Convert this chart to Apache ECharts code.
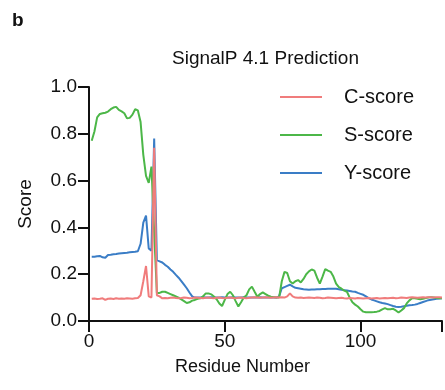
<!DOCTYPE html>
<html>
<head>
<meta charset="utf-8">
<title>SignalP 4.1 Prediction</title>
<script src="https://cdn.jsdelivr.net/npm/echarts@6/dist/echarts.min.js"></script>
<style>
  html, body {margin: 0; padding: 0; background: #fff;}
  #chart {width: 445px; height: 390px;}
</style>
</head>
<body>
<div id="chart"></div>
<script>
// scores per residue (residue 1..130)
var cScore = [
  0.095,0.096,0.094,0.095,0.097,0.090,0.095,0.096,0.094,0.097,
  0.095,0.096,0.095,0.097,0.096,0.095,0.097,0.098,0.110,0.170,
  0.235,0.105,0.100,0.740,0.110,0.105,0.097,0.098,0.097,0.099,
  0.100,0.098,0.097,0.098,0.100,0.099,0.097,0.098,0.100,0.099,
  0.098,0.097,0.099,0.100,0.098,0.097,0.099,0.100,0.098,0.097,
  0.099,0.100,0.098,0.097,0.099,0.100,0.098,0.097,0.099,0.100,
  0.101,0.100,0.099,0.100,0.101,0.100,0.099,0.100,0.101,0.100,
  0.101,0.100,0.105,0.118,0.105,0.100,0.099,0.100,0.098,0.099,
  0.100,0.099,0.098,0.100,0.099,0.097,0.098,0.100,0.099,0.098,
  0.097,0.098,0.099,0.097,0.096,0.098,0.097,0.096,0.098,0.097,
  0.096,0.097,0.098,0.096,0.097,0.098,0.096,0.097,0.098,0.097,
  0.098,0.099,0.097,0.098,0.100,0.099,0.098,0.100,0.101,0.100,
  0.099,0.100,0.101,0.100,0.102,0.101,0.100,0.102,0.101,0.100
];
var sScore = [
  0.770,0.810,0.870,0.885,0.888,0.890,0.895,0.905,0.912,0.915,
  0.902,0.896,0.888,0.866,0.868,0.882,0.905,0.900,0.850,0.710,
  0.620,0.590,0.660,0.380,0.120,0.120,0.125,0.125,0.120,0.115,
  0.110,0.105,0.100,0.092,0.085,0.077,0.080,0.087,0.090,0.095,
  0.097,0.105,0.118,0.118,0.114,0.105,0.093,0.075,0.064,0.090,
  0.115,0.125,0.110,0.085,0.062,0.080,0.100,0.110,0.135,0.147,
  0.125,0.104,0.115,0.122,0.115,0.108,0.104,0.102,0.100,0.100,
  0.170,0.210,0.205,0.170,0.160,0.170,0.175,0.165,0.180,0.200,
  0.212,0.220,0.215,0.185,0.160,0.190,0.222,0.215,0.210,0.190,
  0.160,0.145,0.138,0.130,0.125,0.100,0.080,0.070,0.062,0.050,
  0.040,0.037,0.037,0.037,0.038,0.040,0.043,0.050,0.055,0.050,
  0.050,0.052,0.045,0.036,0.045,0.055,0.075,0.088,0.097,0.097,
  0.095,0.093,0.095,0.098,0.100,0.102,0.100,0.098,0.097,0.097
];
var yScore = [
  0.275,0.275,0.277,0.278,0.272,0.270,0.282,0.283,0.285,0.286,
  0.288,0.290,0.291,0.292,0.294,0.295,0.296,0.298,0.330,0.420,
  0.450,0.310,0.300,0.780,0.260,0.255,0.250,0.240,0.232,0.220,
  0.210,0.197,0.185,0.170,0.155,0.140,0.122,0.105,0.100,0.100,
  0.100,0.101,0.100,0.100,0.101,0.100,0.100,0.100,0.101,0.100,
  0.100,0.100,0.101,0.100,0.100,0.100,0.101,0.100,0.100,0.100,
  0.100,0.100,0.101,0.100,0.100,0.100,0.100,0.100,0.100,0.105,
  0.140,0.145,0.150,0.155,0.148,0.142,0.140,0.138,0.136,0.135,
  0.134,0.135,0.135,0.136,0.136,0.137,0.137,0.138,0.138,0.138,
  0.138,0.136,0.134,0.132,0.130,0.128,0.126,0.125,0.120,0.116,
  0.112,0.105,0.098,0.092,0.088,0.084,0.080,0.077,0.075,0.072,
  0.068,0.064,0.061,0.060,0.061,0.063,0.065,0.067,0.068,0.070,
  0.073,0.077,0.081,0.085,0.089,0.091,0.093,0.095,0.096,0.097
];
var xTicks = [0, 50, 100];
var yTicks = [0.0, 0.2, 0.4, 0.6, 0.8, 1.0];

var font = 'Liberation Sans, Arial, Helvetica, sans-serif';

function pairs(arr) {
  return arr.map(function (v, i) { return [i + 1, v]; });
}

var chart = echarts.init(document.getElementById('chart'));

var axisCommon = {
  axisLine: {lineStyle: {color: '#111', width: 2}},
  axisTick: {show: true, inside: false, length: 11, lineStyle: {color: '#111', width: 2}},
  splitLine: {show: false}
};

chart.setOption({
  animation: false,
  backgroundColor: '#fff',
  title: [
    {text: 'b', left: 7, top: 6, textStyle: {fontSize: 19, fontWeight: 'bold', color: '#111', fontFamily: font}},
    {text: 'SignalP 4.1 Prediction', left: 167, top: 44, textStyle: {fontSize: 19, fontWeight: 'normal', color: '#111', fontFamily: font}}
  ],
  legend: {
    data: ['C-score', 'S-score', 'Y-score'],
    orient: 'vertical',
    left: 275,
    top: 82,
    icon: 'rect',
    itemWidth: 42,
    itemHeight: 2,
    itemGap: 18,
    textStyle: {fontSize: 20, color: '#111', fontFamily: font, padding: [0, 0, 0, 17]}
  },
  grid: {left: 89, top: 87, right: 0, bottom: 69, containLabel: false},
  xAxis: Object.assign({}, axisCommon, {
    type: 'value',
    min: xTicks[0],
    max: 130,
    interval: xTicks[1] - xTicks[0],
    name: 'Residue Number',
    nameLocation: 'middle',
    nameGap: 37,
    nameTextStyle: {color: '#111', fontSize: 18, fontFamily: font, padding: [0, 46, 0, 0]},
    axisLabel: {color: '#111', fontSize: 19, fontFamily: font, margin: 11,
      formatter: function (v) { return xTicks.indexOf(v) >= 0 ? String(v) : ''; }}
  }),
  yAxis: Object.assign({}, axisCommon, {
    type: 'value',
    min: yTicks[0],
    max: yTicks[yTicks.length - 1],
    interval: 0.2,
    name: 'Score',
    nameLocation: 'middle',
    nameGap: 54,
    nameTextStyle: {color: '#111', fontSize: 19, fontFamily: font},
    axisLabel: {color: '#111', fontSize: 19, fontFamily: font, margin: 12,
      formatter: function (v) { return v.toFixed(1); }}
  }),
  series: [
    {name: 'Y-score', type: 'line', data: pairs(yScore), symbol: 'none', z: 2,
      lineStyle: {color: '#3a7dc6', width: 2}, itemStyle: {color: '#3a7dc6'}},
    {name: 'S-score', type: 'line', data: pairs(sScore), symbol: 'none', z: 3,
      lineStyle: {color: '#4cb748', width: 2}, itemStyle: {color: '#4cb748'}},
    {name: 'C-score', type: 'line', data: pairs(cScore), symbol: 'none', z: 4,
      lineStyle: {color: '#f07c7c', width: 2}, itemStyle: {color: '#f07c7c'}}
  ]
});
window.onresize = chart.resize;
</script>
</body>
</html>
